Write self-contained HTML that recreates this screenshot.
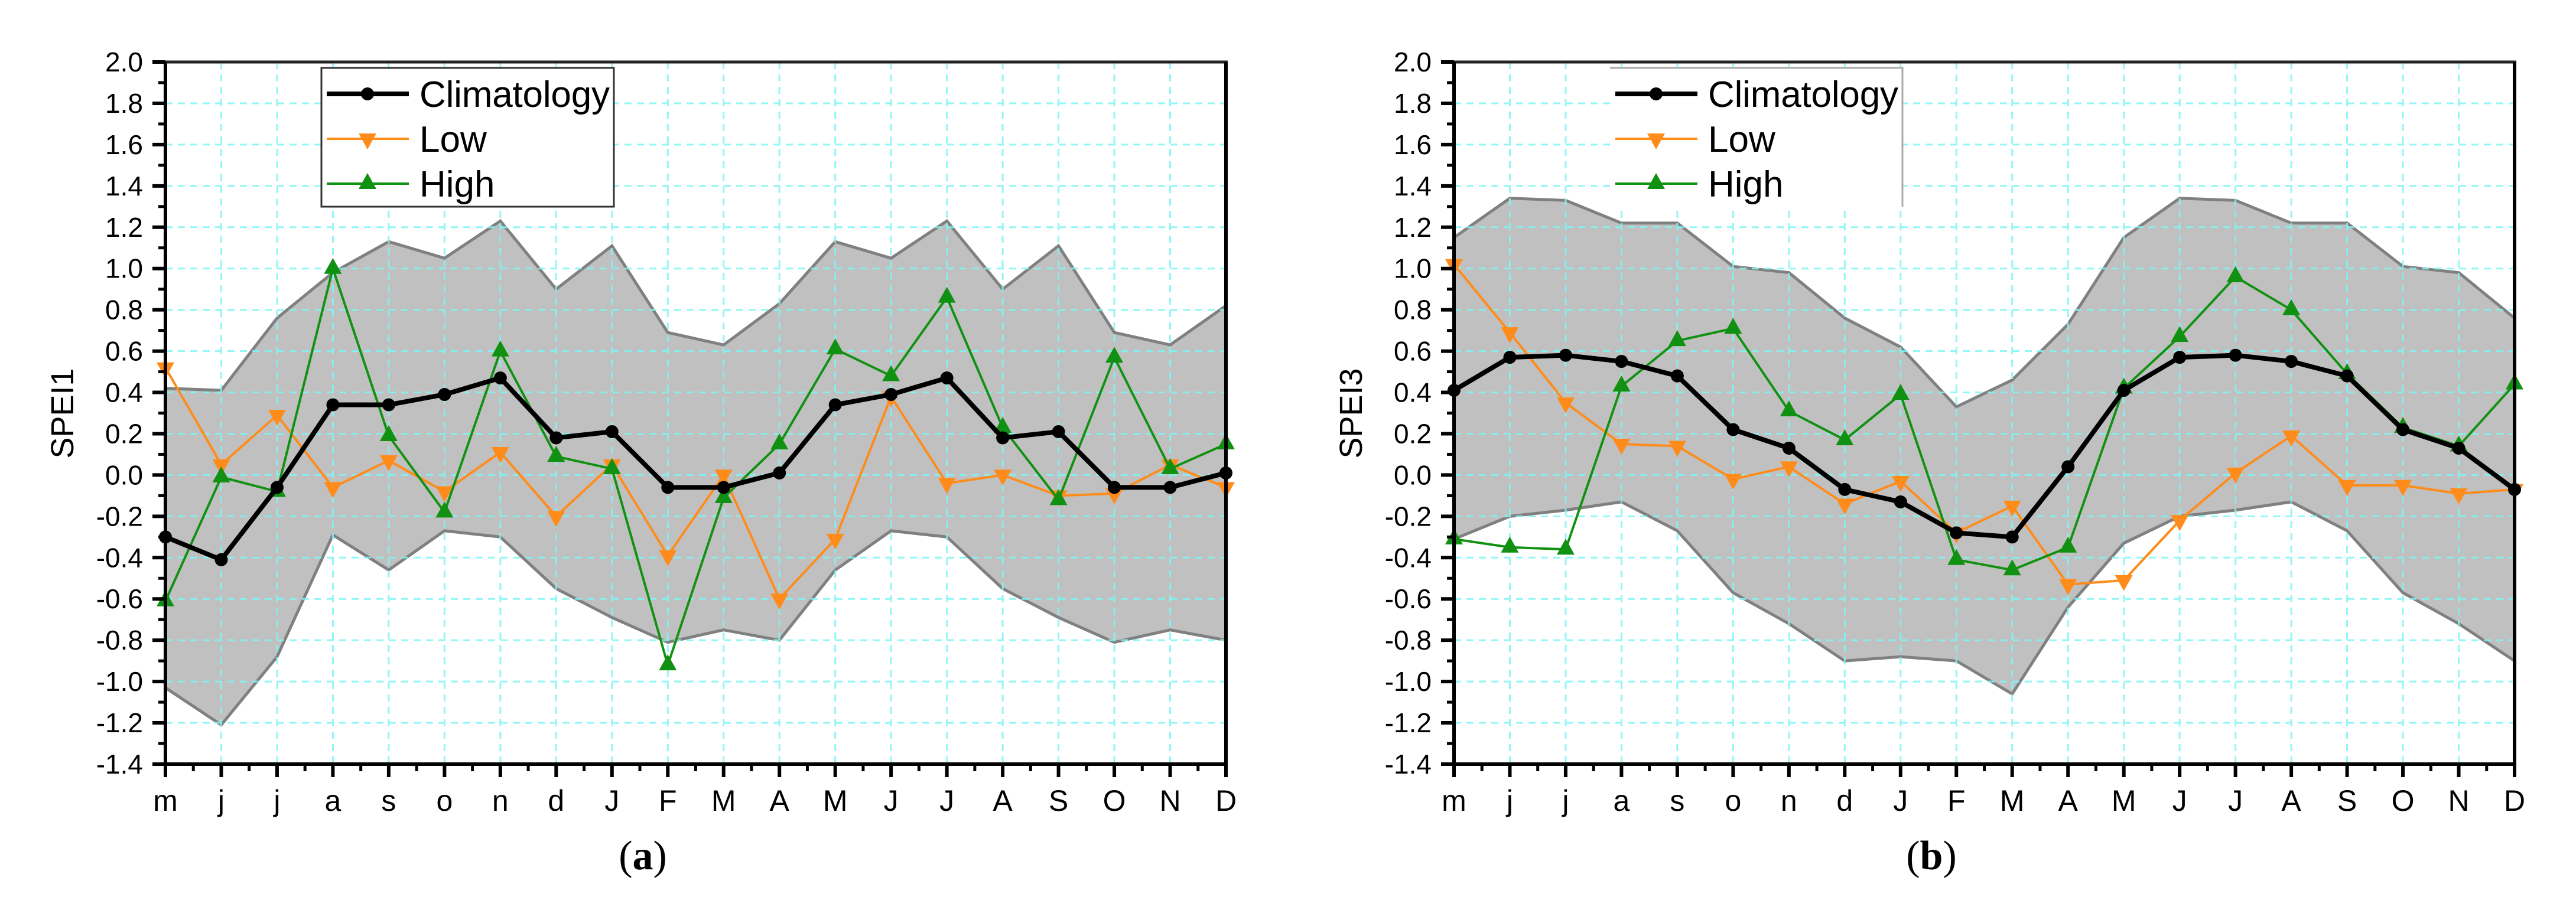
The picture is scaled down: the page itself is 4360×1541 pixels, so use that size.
<!DOCTYPE html>
<html><head><meta charset="utf-8"><style>
html,body{margin:0;padding:0;background:#fff;}
svg{display:block;}
</style></head><body>
<svg id="fig" width="4360" height="1541" viewBox="0 0 4360 1541" xmlns="http://www.w3.org/2000/svg"></svg>
<script>
const months = ["m","j","j","a","s","o","n","d","J","F","M","A","M","J","J","A","S","O","N","D"];
const yTicks = [2.0,1.8,1.6,1.4,1.2,1.0,0.8,0.6,0.4,0.2,0.0,-0.2,-0.4,-0.6,-0.8,-1.0,-1.2,-1.4];
const yTickLabels = ["2.0","1.8","1.6","1.4","1.2","1.0","0.8","0.6","0.4","0.2","0.0","-0.2","-0.4","-0.6","-0.8","-1.0","-1.2","-1.4"];

const a_upper = [0.42,0.41,0.76,0.98,1.13,1.05,1.23,0.90,1.11,0.69,0.63,0.83,1.13,1.05,1.23,0.90,1.11,0.69,0.63,0.82];
const a_lower = [-1.03,-1.21,-0.88,-0.29,-0.46,-0.27,-0.30,-0.55,-0.69,-0.81,-0.75,-0.80,-0.46,-0.27,-0.30,-0.55,-0.69,-0.81,-0.75,-0.80];
const a_clim = [-0.30,-0.41,-0.06,0.34,0.34,0.39,0.47,0.18,0.21,-0.06,-0.06,0.01,0.34,0.39,0.47,0.18,0.21,-0.06,-0.06,0.01];
const a_low = [0.52,0.05,0.29,-0.06,0.07,-0.08,0.11,-0.20,0.05,-0.39,0.00,-0.60,-0.31,0.38,-0.04,0.00,-0.10,-0.09,0.05,-0.06];
const a_high = [-0.61,-0.01,-0.08,1.00,0.19,-0.18,0.60,0.09,0.03,-0.92,-0.11,0.15,0.61,0.48,0.86,0.23,-0.12,0.57,0.03,0.15];

const b_upper = [1.15,1.34,1.33,1.22,1.22,1.01,0.98,0.76,0.62,0.33,0.46,0.73,1.15,1.34,1.33,1.22,1.22,1.01,0.98,0.76];
const b_lower = [-0.31,-0.20,-0.17,-0.13,-0.27,-0.57,-0.72,-0.90,-0.88,-0.90,-1.06,-0.64,-0.33,-0.20,-0.17,-0.13,-0.27,-0.57,-0.72,-0.90];
const b_clim = [0.41,0.57,0.58,0.55,0.48,0.22,0.13,-0.07,-0.13,-0.28,-0.30,0.04,0.41,0.57,0.58,0.55,0.48,0.22,0.13,-0.07];
const b_low = [1.02,0.69,0.35,0.15,0.14,-0.02,0.04,-0.14,-0.03,-0.28,-0.15,-0.53,-0.51,-0.22,0.01,0.19,-0.05,-0.05,-0.09,-0.07];
const b_high = [-0.31,-0.35,-0.36,0.43,0.65,0.71,0.31,0.17,0.39,-0.41,-0.46,-0.35,0.42,0.67,0.96,0.80,0.49,0.23,0.14,0.44];

const NS = "http://www.w3.org/2000/svg";
const svg = document.getElementById("fig");
function mk(tag, attrs, parent, text){
  const e = document.createElementNS(NS, tag);
  for (const k in attrs) e.setAttribute(k, attrs[k]);
  if (text !== undefined) e.textContent = text;
  (parent || svg).appendChild(e);
  return e;
}
const ORANGE = "#ff8c1a", GREEN = "#119111";

function triPts(x, y, s, down){
  const h = s*0.9;
  return down
    ? `${x-s/2},${y-h/3} ${x+s/2},${y-h/3} ${x},${y+2*h/3}`
    : `${x-s/2},${y+h/3} ${x+s/2},${y+h/3} ${x},${y-2*h/3}`;
}

function panel(id, offX, yTitle, cap, upper, lower, clim, low, high, legendFull){
  const L = 280 + offX, R = 2075 + offX, T = 105, B = 1294;
  const xS = i => L + i * (R - L) / (months.length - 1);
  const yS = v => T + (2.0 - v) * (B - T) / 3.4;
  const g = mk("g", {}); 
  
  

  // band
  let d = "M" + upper.map((v,i)=>`${xS(i)},${yS(v)}`).join(" L");
  for (let i = lower.length-1; i >= 0; i--) d += ` L${xS(i)},${yS(lower[i])}`;
  const band = mk("path", {d: d + " Z", fill: "#c0c0c0", stroke: "none"}, g);
  
  
  const up = mk("polyline", {points: upper.map((v,i)=>`${xS(i)},${yS(v)}`).join(" "), fill:"none", stroke:"#808080", "stroke-width":5}, g);
  
  
  const lo = mk("polyline", {points: lower.map((v,i)=>`${xS(i)},${yS(v)}`).join(" "), fill:"none", stroke:"#808080", "stroke-width":5}, g);
  
  

  // grid
  const grid = mk("g", {stroke:"#7ff5f5", "stroke-width":3, "stroke-dasharray":"12 9", opacity:0.85}, g);
  
  
  months.forEach((m,i)=>{ if(i>0 && i<months.length-1) mk("line",{x1:xS(i),x2:xS(i),y1:T,y2:B},grid); });
  yTicks.forEach(v=>{ if(v<2 && v>-1.4) mk("line",{x1:L,x2:R,y1:yS(v),y2:yS(v)},grid); });

  // series
  function series(vals, color, w, name, marker){
    const sg = mk("g", {}, g);
    
    
    mk("polyline", {points: vals.map((v,i)=>`${xS(i)},${yS(v)}`).join(" "), fill:"none", stroke:color, "stroke-width":w, "stroke-linejoin":"miter"}, sg);
    vals.forEach((v,i)=>{
      let p;
      if (marker === "circle") p = mk("circle", {cx:xS(i), cy:yS(v), r:11, fill:color}, sg);
      else p = mk("polygon", {points: triPts(xS(i), yS(v), 30, marker === "down"), fill:color}, sg);
      
      
    });
  }
  series(low, ORANGE, 4, "low-series", "down");
  series(high, GREEN, 4, "high-series", "up");
  series(clim, "#000", 8, "climatology-series", "circle");

  // white mask outside plot right edge (band clipped already by data), axes
  const ax = mk("g", {stroke:"#000", "stroke-width":6, fill:"none"}, g);
  
  
  mk("line",{x1:L-3,x2:R+3,y1:T,y2:T, stroke:"#222", "stroke-width":5},ax);
  mk("line",{x1:L,x2:L,y1:T,y2:B+3},ax);
  mk("line",{x1:R,x2:R,y1:T,y2:B+3},ax);
  mk("line",{x1:L-3,x2:R+3,y1:B,y2:B},ax);

  // y ticks
  const yl = mk("g", {"font-family":"Liberation Sans, sans-serif", "font-size":46, "text-anchor":"end", fill:"#000"}, g);
  
  
  yTicks.forEach((v,i)=>{
    mk("line",{x1:L-22,x2:L,y1:yS(v),y2:yS(v),stroke:"#000","stroke-width":6},g);
    if (i < yTicks.length-1) mk("line",{x1:L-12,x2:L,y1:yS(v-0.1),y2:yS(v-0.1),stroke:"#000","stroke-width":5},g);
    mk("text",{x:L-38,y:yS(v)+16},yl,yTickLabels[i]);
  });
  // x ticks
  const xl = mk("g", {"font-family":"Liberation Sans, sans-serif", "font-size":50, "text-anchor":"middle", fill:"#000"}, g);
  
  
  months.forEach((m,i)=>{
    mk("line",{x1:xS(i),x2:xS(i),y1:B,y2:B+22,stroke:"#000","stroke-width":6},g);
    if (i < months.length-1) mk("line",{x1:(xS(i)+xS(i+1))/2,x2:(xS(i)+xS(i+1))/2,y1:B,y2:B+12,stroke:"#000","stroke-width":5},g);
    mk("text",{x:xS(i),y:1373},xl,m);
  });
  const yt = mk("text",{x:0,y:0,transform:`translate(${offX+124},700) rotate(-90)`,"font-family":"Liberation Sans, sans-serif","font-size":54,"text-anchor":"middle",fill:"#000"},g,yTitle);
  
  

  // legend
  const lg = mk("g", {}, g);
  
  
  const lx = 544 + offX, ly = 115, lw = 495, lh = 235;
  mk("rect",{x:lx,y:ly,width:lw,height:lh,fill:"#fff",stroke:"none"},lg);
  if (legendFull) mk("rect",{x:lx,y:ly,width:lw,height:lh,fill:"none",stroke:"#333","stroke-width":3},lg);
  else mk("polyline",{points:`${lx},${ly} ${lx+lw},${ly} ${lx+lw},${ly+lh}`,fill:"none",stroke:"#aaa","stroke-width":3},lg);
  const entries = [["Climatology","#000",8,"circle"],["Low",ORANGE,4,"down"],["High",GREEN,4,"up"]];
  entries.forEach((e,k)=>{
    const ey = 159 + k*76;
    const eg = mk("g",{},lg);
    
    
    mk("line",{x1:lx+9,x2:lx+148,y1:ey,y2:ey,stroke:e[1],"stroke-width":e[2]},eg);
    if (e[3]==="circle") mk("circle",{cx:lx+78,cy:ey,r:11,fill:e[1]},eg);
    else mk("polygon",{points:triPts(lx+78,ey,30,e[3]==="down"),fill:e[1]},eg);
    mk("text",{x:lx+166,y:ey+22,"font-family":"Liberation Sans, sans-serif","font-size":62,fill:"#000",textLength:e[0]==="Climatology"?322:null},eg,e[0]);
  });

  const c = mk("text",{x:offX+1088,y:1472,"font-family":"Liberation Serif, serif","font-size":70,"text-anchor":"middle",fill:"#000"},g);
  
  
  mk("tspan",{},c,"(");
  mk("tspan",{"font-weight":"bold"},c,cap);
  mk("tspan",{},c,")");
}
panel("panel-a", 0, "SPEI1", "a", a_upper, a_lower, a_clim, a_low, a_high, true);
panel("panel-b", 2181, "SPEI3", "b", b_upper, b_lower, b_clim, b_low, b_high, false);
// remove null textLength attrs
document.querySelectorAll('text[textLength="null"]').forEach(t=>t.removeAttribute('textLength'));
</script>
</body></html>
